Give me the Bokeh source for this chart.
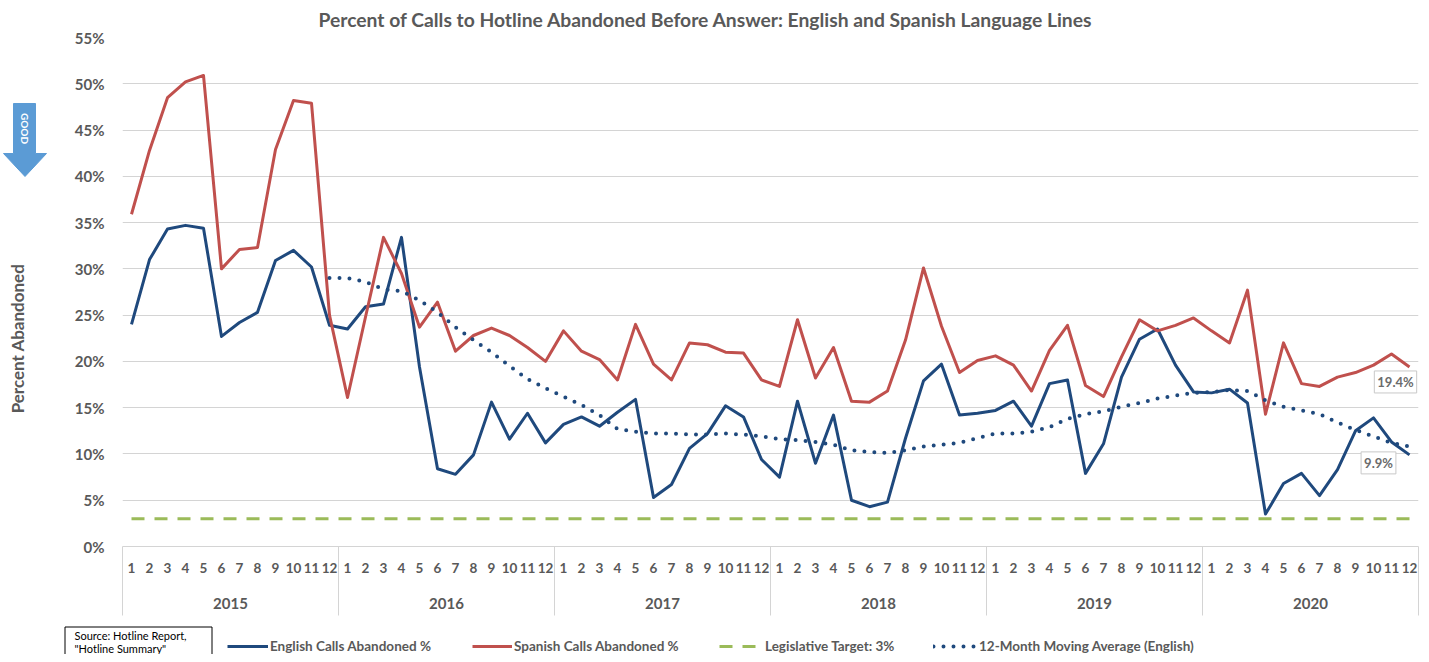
import math
from bokeh.plotting import figure
from bokeh.layouts import column, row
from bokeh.models import (Range1d, FixedTicker, LinearAxis, Legend, LegendItem, Label,
                          ColumnDataSource, PrintfTickFormatter)
from bokeh.core.properties import value
from bokeh.embed import file_html
from bokeh.resources import INLINE

# ---------------- data ----------------
years = ["2015", "2016", "2017", "2018", "2019", "2020"]
months = ["1", "2", "3", "4", "5", "6", "7", "8", "9", "10", "11", "12"]

english = [24.0, 31.0, 34.3, 34.7, 34.4, 22.7, 24.2, 25.3, 30.9, 32.0, 30.2, 23.9,
           23.5, 25.9, 26.2, 33.4, 19.4, 8.4, 7.8, 9.9, 15.6, 11.6, 14.4, 11.2,
           13.2, 14.0, 13.0, 14.5, 15.9, 5.3, 6.7, 10.6, 12.2, 15.2, 14.0, 9.4,
           7.5, 15.7, 9.0, 14.2, 5.0, 4.3, 4.8, 11.7, 17.9, 19.7, 14.2, 14.4,
           14.7, 15.7, 13.0, 17.6, 18.0, 7.9, 11.1, 18.3, 22.4, 23.5, 19.6, 16.7,
           16.6, 17.0, 15.5, 3.5, 6.8, 7.9, 5.5, 8.3, 12.5, 13.9, 11.3, 9.9]

spanish = [35.9, 42.8, 48.5, 50.2, 50.9, 30.0, 32.1, 32.3, 42.9, 48.2, 47.9, 25.0,
           16.1, 24.8, 33.4, 29.5, 23.7, 26.4, 21.1, 22.8, 23.6, 22.8, 21.5, 20.0,
           23.3, 21.1, 20.2, 18.0, 24.0, 19.7, 18.0, 22.0, 21.8, 21.0, 20.9, 18.0,
           17.3, 24.5, 18.2, 21.5, 15.7, 15.6, 16.8, 22.3, 30.1, 23.8, 18.8, 20.1,
           20.6, 19.6, 16.8, 21.2, 23.9, 17.4, 16.2, 20.5, 24.5, 23.3, 23.9, 24.7,
           23.3, 22.0, 27.7, 14.3, 22.0, 17.6, 17.3, 18.3, 18.8, 19.6, 20.8, 19.4]

# 12-month moving average (English), first value at Dec 2015
moving_avg = [29.0,
              29.0, 28.6, 27.8, 27.6, 26.6, 25.3, 23.7, 22.3, 21.0, 19.5, 18.1, 17.1,
              16.2, 15.3, 14.2, 12.7, 12.4, 12.2, 12.2, 12.1, 12.1, 12.2, 12.1, 11.9,
              11.6, 11.5, 11.3, 11.0, 10.4, 10.2, 10.1, 10.4, 10.8, 11.0, 11.2, 11.7,
              12.2, 12.2, 12.4, 12.9, 13.8, 14.3, 14.6, 15.1, 15.5, 16.0, 16.3, 16.6,
              16.7, 16.9, 16.8, 15.8, 15.1, 14.7, 14.3, 13.4, 12.6, 11.9, 11.2, 10.8]

target_pct = 3.0
y_ticks = [0, 5, 10, 15, 20, 25, 30, 35, 40, 45, 50, 55]

title_text = "Percent of Calls to Hotline Abandoned Before Answer: English and Spanish Language Lines"
y_label = "Percent Abandoned"
source_lines = ["Source: Hotline Report,", '"Hotline Summary"']
legend_labels = ["English Calls Abandoned %", "Spanish Calls Abandoned %",
                 "Legislative Target: 3%", "12-Month Moving Average (English)"]

# ---------------- styling ----------------
BLUE = "#1F497D"
RED = "#C0504D"
GREEN = "#9BBB59"
ARROW = "#5B9BD5"
GRAY_TXT = "#595959"
GRID = "#d4d4d4"
FONT = "Lato"
TGT_DASH = "13 10"
MA_DASH = "0 10"

LEFT_W, MAIN_W, MAIN_H, BOTTOM_W, BOTTOM_H = 58, 1363, 620, 1421, 34
FRAME_TOP, FRAME_BOTTOM = 37, 546   # main plot frame, page pixels

n = len(english)
xs = [i + 0.5 for i in range(n)]
src_main = ColumnDataSource(dict(x=xs, eng=english, spa=spanish, tgt=[target_pct] * n))
ma_start = n - len(moving_avg)
src_ma = ColumnDataSource(dict(x=xs[ma_start:], ma=moving_avg))

# ================= main chart =================
p = figure(width=MAIN_W, height=MAIN_H, output_backend="svg", toolbar_location=None,
           x_range=Range1d(0, n), y_range=Range1d(0, 55),
           min_border_left=64, min_border_right=3, min_border_top=FRAME_TOP,
           min_border_bottom=MAIN_H - FRAME_BOTTOM, title=title_text)
p.outline_line_color = None
p.background_fill_color = "white"
p.border_fill_color = "white"

p.title.align = "left"
p.title.vertical_align = "top"
p.title.offset = 196
p.title.standoff = 9
p.title.text_font = FONT
p.title.text_font_style = "bold"
p.title.text_font_size = "19.3px"
p.title.text_color = GRAY_TXT

p.xgrid.grid_line_color = None
p.ygrid.grid_line_color = GRID
p.ygrid.grid_line_width = 1

yax = p.yaxis[0]
yax.ticker = FixedTicker(ticks=y_ticks)
yax.formatter = PrintfTickFormatter(format="%d%%")
yax.axis_line_color = None
yax.major_tick_line_color = None
yax.minor_tick_line_color = None
yax.major_tick_out = 0
yax.major_tick_in = 0
yax.major_label_standoff = 18
yax.major_label_text_font = FONT
yax.major_label_text_font_style = "bold"
yax.major_label_text_font_size = "15px"
yax.major_label_text_color = GRAY_TXT

# month axis; year separators drawn as its minor ticks
xax = p.xaxis[0]
xax.ticker = FixedTicker(ticks=xs, minor_ticks=[12 * k for k in range(len(years) + 1)])
xax.major_label_overrides = {x: months[i % 12] for i, x in enumerate(xs)}
xax.major_tick_line_color = None
xax.major_tick_out = 0
xax.major_tick_in = 0
xax.minor_tick_line_color = GRID
xax.minor_tick_line_width = 1
xax.minor_tick_in = 0
xax.minor_tick_out = 69
xax.axis_line_color = GRID
xax.major_label_standoff = -53
xax.major_label_text_font = FONT
xax.major_label_text_font_style = "bold"
xax.major_label_text_font_size = "13.5px"
xax.major_label_text_color = GRAY_TXT

year_ticks = [12 * k + 6 for k in range(len(years))]
yr_ax = LinearAxis(ticker=FixedTicker(ticks=year_ticks),
                   major_label_overrides={t: years[k] for k, t in enumerate(year_ticks)})
yr_ax.axis_line_color = None
yr_ax.major_tick_line_color = None
yr_ax.minor_tick_line_color = None
yr_ax.major_tick_out = 0
yr_ax.major_tick_in = 0
yr_ax.major_label_standoff = 22
yr_ax.major_label_text_font = FONT
yr_ax.major_label_text_font_style = "bold"
yr_ax.major_label_text_font_size = "15px"
yr_ax.major_label_text_color = GRAY_TXT
p.add_layout(yr_ax, "below")

line_styles = [
    dict(line_color=BLUE, line_width=3, line_join="round"),
    dict(line_color=RED, line_width=3, line_join="round"),
    dict(line_color=GREEN, line_width=3, line_dash=TGT_DASH),
    dict(line_color=BLUE, line_width=4, line_dash=MA_DASH, line_cap="round"),
]

p.line("x", "tgt", source=src_main, **line_styles[2])
p.line("x", "eng", source=src_main, **line_styles[0])
p.line("x", "spa", source=src_main, **line_styles[1])
p.line("x", "ma", source=src_ma, **line_styles[3])

for val, xo, yo in [(spanish[-1], -14, -15), (english[-1], -31, -8)]:
    p.add_layout(Label(x=xs[-1], y=val, text=f"{val:.1f}%", x_offset=xo, y_offset=yo,
                       text_align="center", text_baseline="middle",
                       text_font=FONT, text_font_style="bold", text_font_size="13px",
                       text_color="#6b6b6b", border_line_color="#c8c8c8",
                       background_fill_color="white", padding=3))

# ================= left strip: GOOD arrow + y-axis title =================
# its frame is aligned with the main frame; data units = page pixels
left = figure(width=LEFT_W, height=MAIN_H, output_backend="svg", toolbar_location=None,
              x_range=Range1d(0, LEFT_W), y_range=Range1d(FRAME_BOTTOM, FRAME_TOP),
              x_axis_type=None, y_axis_type=None, min_border=0)
left.outline_line_color = None
left.xgrid.grid_line_color = None
left.ygrid.grid_line_color = None
left.patch(x=[13, 35, 35, 46, 24.5, 3, 13], y=[103, 103, 153, 153, 176, 153, 153],
           fill_color=ARROW, line_color=ARROW)
left.text(x=[24.5], y=[128], text=["GOOD"], angle=-math.pi / 2, text_align="center",
          text_baseline="middle", text_font=value(FONT), text_font_style="bold",
          text_font_size="10px", text_color="white")
left.text(x=[17], y=[338], text=[y_label], angle=math.pi / 2, text_align="center",
          text_baseline="middle", text_font=value(FONT), text_font_style="bold",
          text_font_size="17px", text_color=GRAY_TXT)

# ================= bottom strip: source box + legend =================
bot = figure(width=BOTTOM_W, height=BOTTOM_H, output_backend="svg", toolbar_location=None,
             x_range=Range1d(0, BOTTOM_W), y_range=Range1d(BOTTOM_H, 0),
             x_axis_type=None, y_axis_type=None, min_border=0)
bot.outline_line_color = None
bot.xgrid.grid_line_color = None
bot.ygrid.grid_line_color = None
bot.quad(left=[64.5], right=[211.5], top=[6.5], bottom=[60], fill_color="white",
         line_color="black", line_width=1)
bot.text(x=[74, 74], y=[14.5, 27.5], text=source_lines, text_align="left",
         text_baseline="middle", text_font=value(FONT), text_font_size="11px",
         text_color="black")

legend_x = [227, 472, 719, 933]
legend_gw = [41, 40, 41, 44]
legend_so = [2, 2, 5, 2]
for k in range(4):
    dummy = bot.line(x=[-20, -10], y=[-20, -20], **line_styles[k])
    lg = Legend(items=[LegendItem(label=legend_labels[k], renderers=[dummy])],
                location=(legend_x[k], 0), orientation="horizontal",
                glyph_width=legend_gw[k], glyph_height=16, label_height=16,
                label_standoff=legend_so[k], padding=0, margin=0, spacing=0,
                border_line_color=None, background_fill_alpha=0,
                label_text_font=FONT, label_text_font_style="bold",
                label_text_font_size="13.5px", label_text_color=GRAY_TXT)
    bot.add_layout(lg, "center")

layout = column(row(left, p), bot)
open("out.html", "w").write(file_html(layout, INLINE))
